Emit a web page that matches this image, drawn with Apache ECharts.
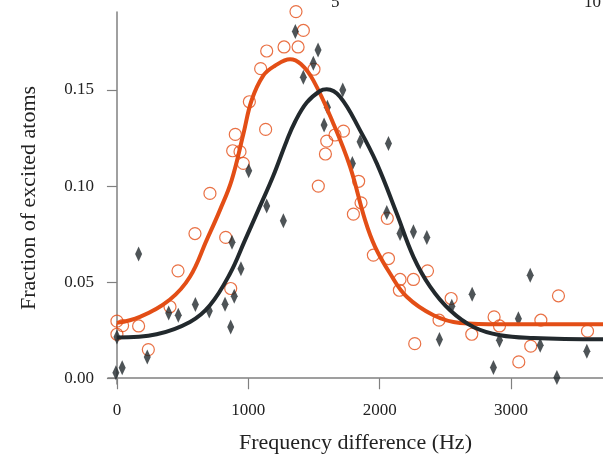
<!DOCTYPE html>
<html>
<head>
<meta charset="utf-8">
<script src="https://cdn.jsdelivr.net/npm/echarts@6/dist/echarts.min.js"></script>
<style>
  html, body { margin: 0; padding: 0; background: #fff; }
  #chart { width: 603px; height: 461px; }
</style>
</head>
<body>
<div id="chart"></div>
<script>
// measured points (Hz, fraction)
const orangePoints = [
  [0, 0.0297], [0, 0.0229], [43, 0.0274], [165, 0.0272], [239, 0.0149],
  [404, 0.0372], [465, 0.0559], [594, 0.0753], [708, 0.0962], [828, 0.0733],
  [866, 0.0467], [881, 0.1184], [901, 0.1269], [937, 0.1179], [962, 0.1118],
  [1008, 0.1439], [1094, 0.1611], [1132, 0.1295], [1140, 0.1703], [1272, 0.1724],
  [1363, 0.1908], [1379, 0.1724], [1419, 0.181], [1500, 0.1608], [1533, 0.100],
  [1587, 0.1167], [1597, 0.1234], [1660, 0.1266], [1724, 0.1286], [1800, 0.0854],
  [1840, 0.1025], [1858, 0.0913], [1952, 0.0641], [2058, 0.0832], [2067, 0.0623],
  [2150, 0.0458], [2155, 0.0514], [2257, 0.0514], [2267, 0.018], [2364, 0.0559],
  [2452, 0.0302], [2544, 0.0415], [2701, 0.0229], [2871, 0.0319], [2912, 0.0272],
  [3059, 0.0085], [3150, 0.0167], [3227, 0.0302], [3361, 0.0429], [3582, 0.0245]
];
const blackPoints = [
  [-8, 0.0028], [0, 0.0215], [40, 0.0054], [165, 0.0646], [231, 0.0111],
  [394, 0.034], [467, 0.0328], [597, 0.0384], [703, 0.035], [823, 0.0385],
  [866, 0.0267], [876, 0.0708], [893, 0.0427], [944, 0.057], [1003, 0.108],
  [1140, 0.0896], [1267, 0.0819], [1358, 0.1804], [1419, 0.1566], [1495, 0.1639],
  [1531, 0.1708], [1577, 0.1318], [1602, 0.141], [1719, 0.150], [1792, 0.1118],
  [1851, 0.1231], [2054, 0.0862], [2067, 0.1222], [2155, 0.0753], [2257, 0.0762],
  [2359, 0.0733], [2455, 0.0201], [2549, 0.0375], [2704, 0.0437], [2866, 0.0056],
  [2912, 0.0198], [3056, 0.031], [3146, 0.0536], [3222, 0.0172], [3349, 0.0004],
  [3577, 0.0141]
];
// fitted curves
const orangeCurve = [
  [0, 0.0288], [175, 0.0319], [404, 0.041], [556, 0.0528], [683, 0.0719],
  [784, 0.0875], [873, 0.103], [962, 0.127], [1026, 0.1448], [1114, 0.1575],
  [1200, 0.1625], [1318, 0.166], [1400, 0.1635], [1495, 0.155], [1647, 0.1326],
  [1775, 0.110], [1889, 0.0823], [1965, 0.0684], [2079, 0.0545], [2206, 0.0424],
  [2410, 0.0328], [2612, 0.0288], [2917, 0.0281], [3700, 0.0281]
];
const blackCurve = [
  [0, 0.0212], [302, 0.0229], [556, 0.0293], [708, 0.038], [861, 0.0545],
  [975, 0.0719], [1076, 0.0875], [1191, 0.1055], [1292, 0.1235], [1356, 0.1335],
  [1445, 0.1435], [1546, 0.1495], [1597, 0.1504], [1698, 0.1465], [1851, 0.129],
  [1978, 0.1118], [2130, 0.0857], [2257, 0.0632], [2384, 0.0477], [2536, 0.0354],
  [2714, 0.0267], [2917, 0.0224], [3170, 0.021], [3700, 0.0203]
];
const xTicks = [0, 1000, 2000, 3000];
const yTicks = [0, 0.05, 0.10, 0.15];

const orange = '#e34e16';
const dark = '#22292d';
const serif = 'Liberation Serif';

const chart = echarts.init(document.getElementById('chart'));

chart.setOption({
  animation: false,
  grid: { left: 108, right: 0, top: 12, bottom: 77 },
  xAxis: {
    type: 'value',
    min: -68,
    max: 3700,
    name: 'Frequency difference (Hz)',
    nameLocation: 'middle',
    nameGap: 48,
    nameTextStyle: { fontFamily: serif, fontSize: 22, color: '#222' },
    axisLine: { show: true, lineStyle: { color: '#808080', width: 1.5 } },
    axisTick: { show: true, length: 11, customValues: xTicks, lineStyle: { color: '#808080', width: 1.2 } },
    axisLabel: {
      customValues: xTicks, fontFamily: serif, fontSize: 17, color: '#222', margin: 18,
      formatter: v => String(v)
    },
    splitLine: { show: false }
  },
  yAxis: {
    type: 'value',
    min: -0.003,
    max: 0.1906,
    name: 'Fraction of excited atoms',
    nameLocation: 'middle',
    nameGap: 68,
    nameTextStyle: { fontFamily: serif, fontSize: 22, color: '#222' },
    axisLine: { show: true, lineStyle: { color: '#808080', width: 1.5 } },
    axisTick: { show: true, length: 10, customValues: yTicks, lineStyle: { color: '#808080', width: 1.2 } },
    axisLabel: {
      customValues: yTicks, fontFamily: serif, fontSize: 17, color: '#222', margin: 14,
      formatter: v => v.toFixed(2)
    },
    splitLine: { show: false }
  },
  graphic: [
    { type: 'text', left: 331, top: -6, style: { text: '5', font: '17px "Liberation Serif"', fill: '#222' } },
    { type: 'text', left: 584, top: -6, style: { text: '10', font: '17px "Liberation Serif"', fill: '#222' } }
  ],
  series: [
    {
      type: 'scatter',
      data: orangePoints,
      symbol: 'circle',
      symbolSize: 12,
      clip: false,
      itemStyle: { color: 'rgba(0,0,0,0)', borderColor: orange, borderWidth: 1.2 },
      z: 2
    },
    {
      type: 'scatter',
      data: blackPoints,
      symbol: 'diamond',
      symbolSize: [7, 15],
      clip: false,
      itemStyle: { color: dark },
      z: 2
    },
    {
      type: 'line',
      data: orangeCurve,
      smooth: 0.4,
      showSymbol: false,
      lineStyle: { color: orange, width: 4 },
      z: 3
    },
    {
      type: 'line',
      data: blackCurve,
      smooth: 0.4,
      showSymbol: false,
      lineStyle: { color: dark, width: 4 },
      z: 3
    }
  ]
});
</script>
</body>
</html>
